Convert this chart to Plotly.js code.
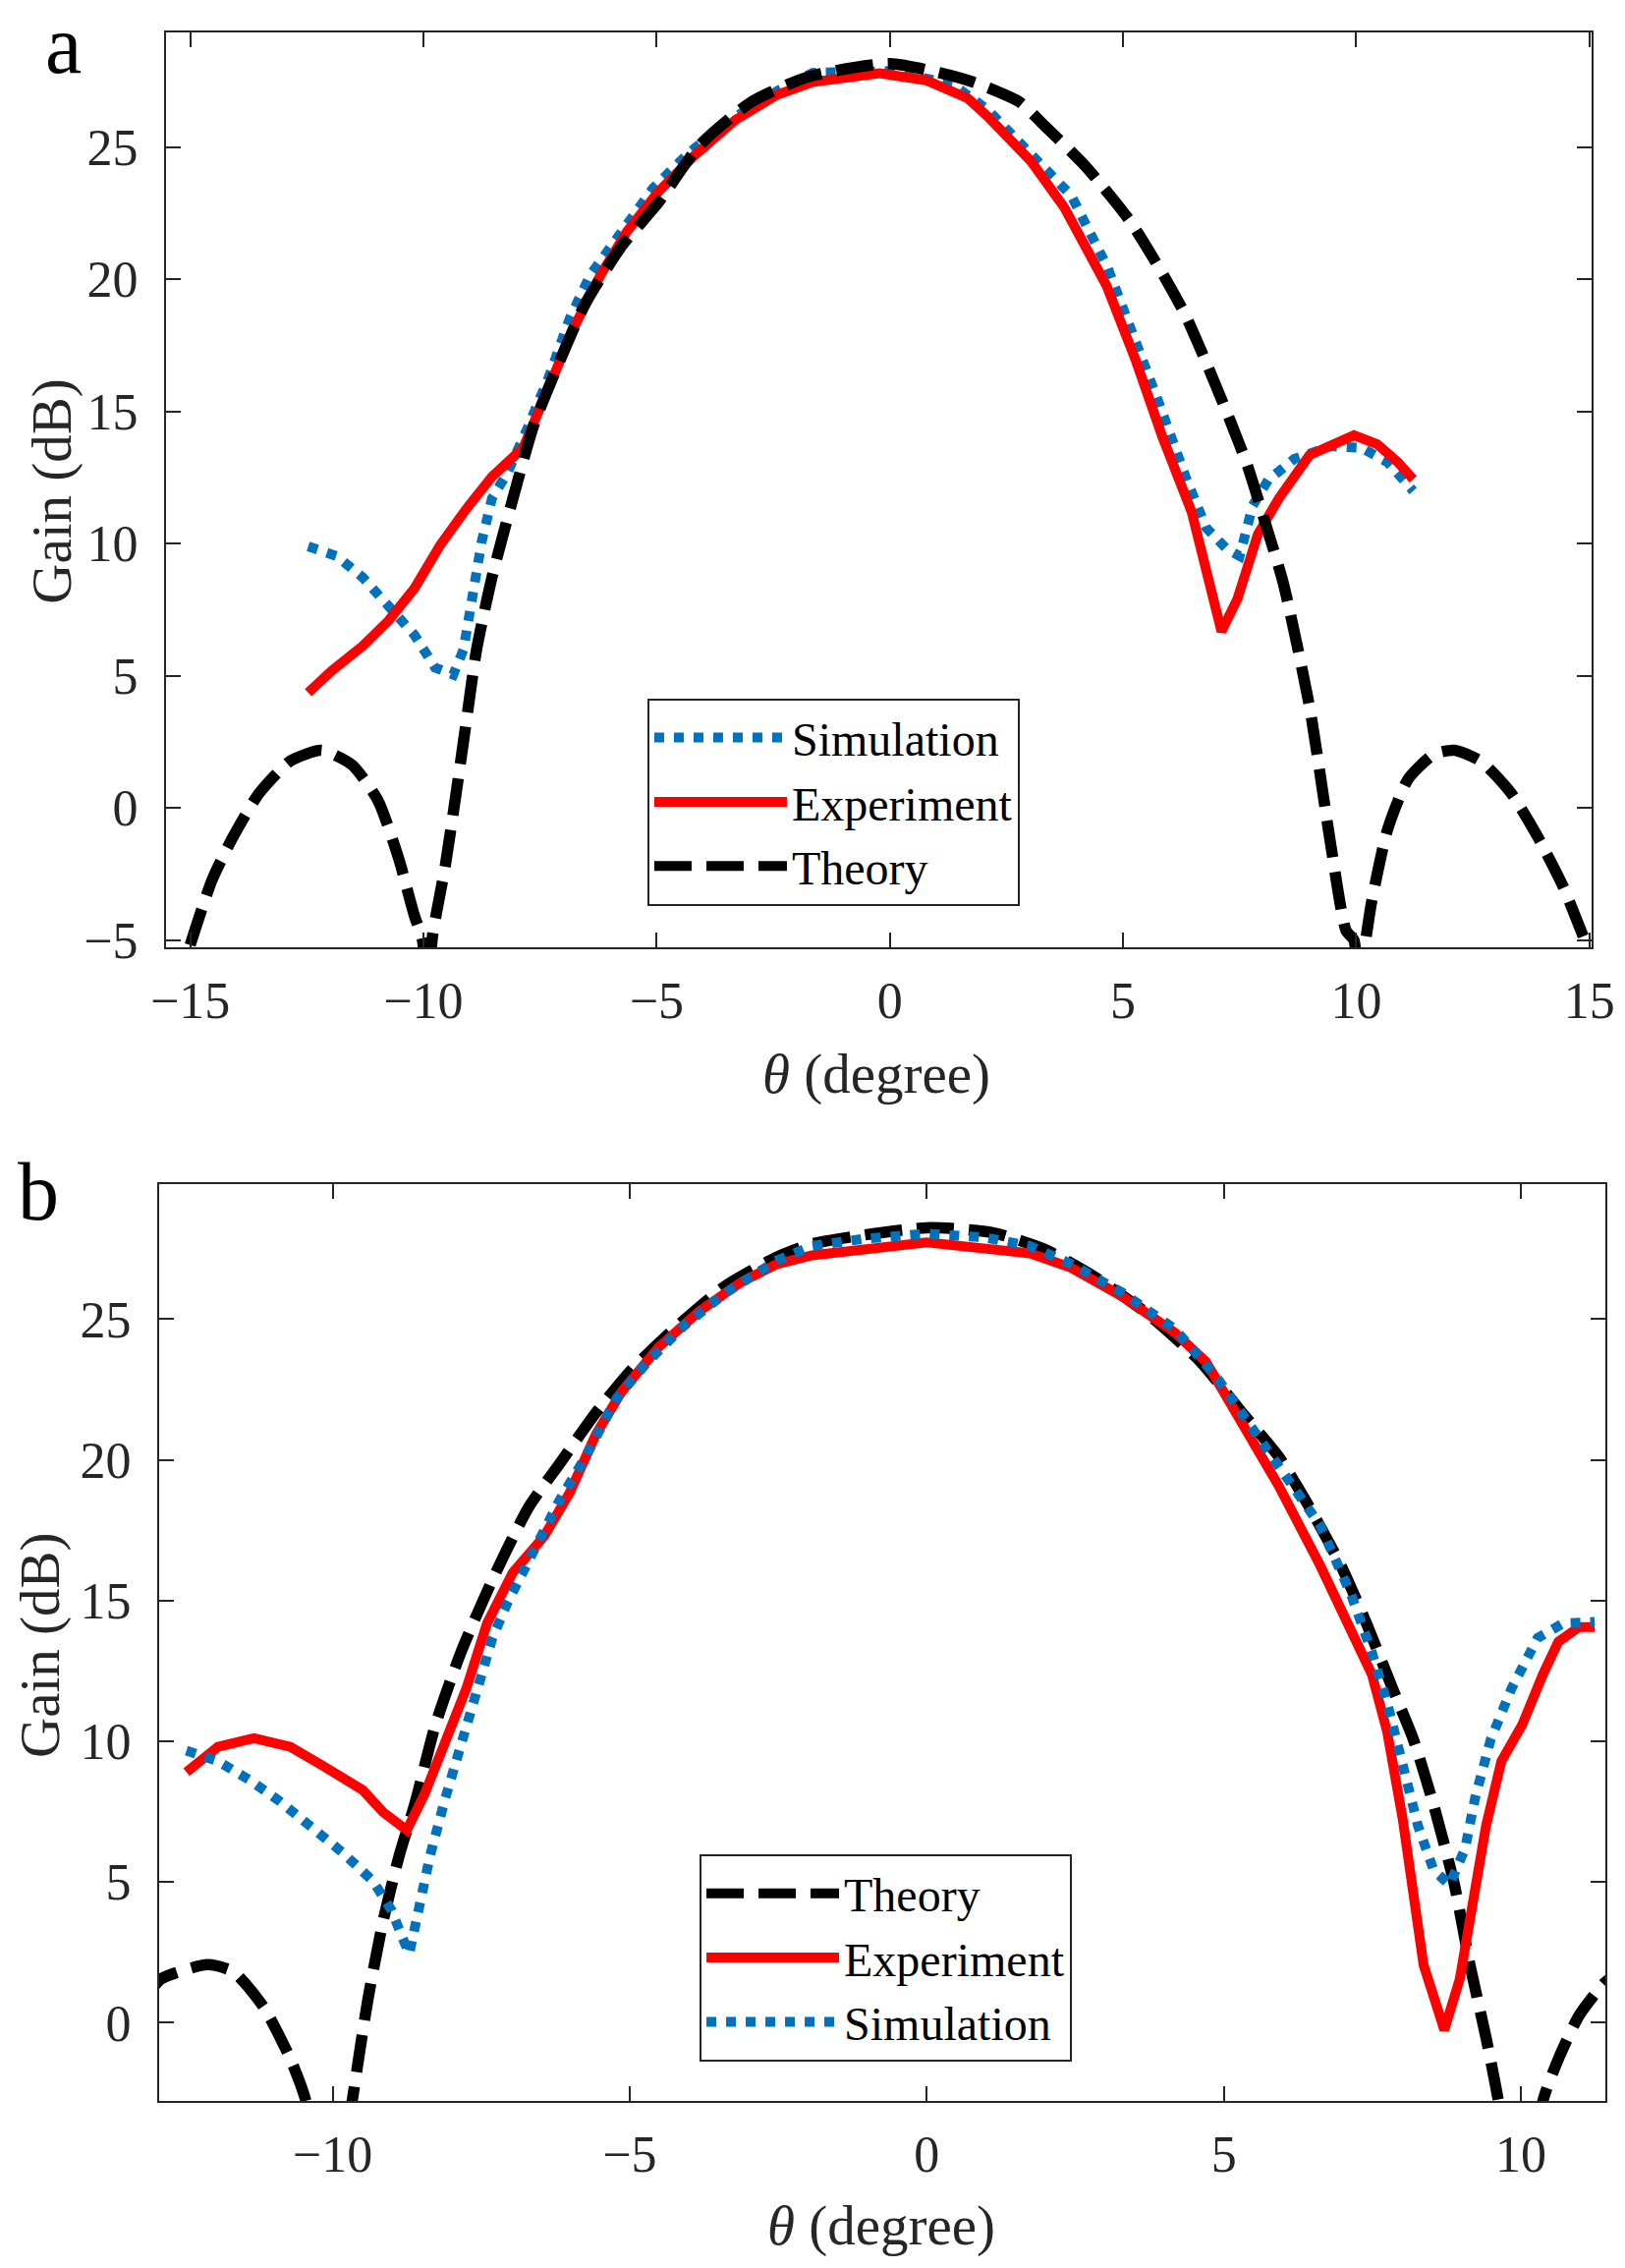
<!DOCTYPE html>
<html>
<head>
<meta charset="utf-8">
<script src="https://cdn.plot.ly/plotly-3.0.1.min.js"></script>
<style>
  html, body { margin: 0; padding: 0; background: #fff; }
  #chart { width: 1654px; height: 2308px; }
</style>
</head>
<body>
<div id="chart"></div>
<script>
// Panel a
const aTheoryX = [-15.0, -14.53, -14.08, -13.53, -12.86, -12.19, -11.53, -10.97, -10.53, -10.19, -10.03, -9.9,
  -9.8, -9.53, -9.3, -9.08, -8.86, -8.53, -8.08, -7.64, -7.08, -6.53, -5.75, -4.97, -4.08, -2.97, -1.75,
  0, 1.67, 2.78, 3.25, 4.23, 5.14, 5.84, 6.34, 6.83, 7.32, 7.67, 8.02, 8.44, 9.0, 9.45, 9.78, 9.95, 10.05,
  10.33, 10.67, 11.11, 11.67, 12.11, 12.67, 13.33, 13.89, 14.44, 14.94, 15.2];
const aTheoryY = [-5.18, -2.72, -1.09, 0.54, 1.77, 2.18, 1.63, 0.27, -1.91, -4.09, -4.9, -6.5,
  -4.77, -2.18, 0.54, 3.27, 5.99, 8.72, 11.71, 14.44, 16.89, 19.07, 21.25, 22.88, 25.06, 26.7, 27.65,
  28.15, 27.52, 26.7, 25.92, 24.2, 22.22, 20.23, 18.63, 16.65, 14.54, 12.93, 10.95, 8.47, 3.81, -1.36, -4.63, -5.0, -6.5,
  -3.54, -0.82, 1.09, 2.04, 2.18, 1.77, 0.54, -1.09, -2.99, -5.18, -6.2];

const aSimX = [-12.47, -11.86, -11.3, -10.75, -10.19, -9.75, -9.36, -9.14, -8.97, -8.75, -8.53, -8.2, -7.75,
  -7.3, -6.86, -6.42, -5.75, -5.08, -4.3, -3.3, -2.42, -1.66, 0, 1.34, 2.1, 3.0, 3.89, 4.67, 5.22, 5.78,
  6.34, 6.78, 7.22, 7.5, 7.78, 8.11, 8.67, 9.45, 10.11, 10.67, 11.22];
const aSimY = [9.89, 9.53, 8.72, 7.63, 6.54, 5.31, 5.04, 5.99, 7.9, 10.08, 11.71, 12.67, 14.44,
  16.35, 18.53, 20.16, 21.79, 23.43, 24.79, 26.15, 27.11, 27.8, 27.87, 27.38, 26.4, 24.79, 23.16, 20.43, 17.98, 15.26,
  12.53, 10.6, 9.8, 9.53, 11.44, 12.4, 13.2, 13.68, 13.62, 13.08, 11.99];

const aExpX = [-12.47, -11.97, -11.3, -10.75, -10.19, -9.64, -9.08, -8.53, -7.86, -7.53, -7.08, -6.75, -6.2,
  -5.64, -4.97, -4.2, -3.31, -2.42, -1.66, -0.22, 0.78, 1.67, 2.1, 3.03, 3.74, 4.65, 5.28, 5.84, 6.47,
  6.9, 7.11, 7.45, 7.89, 8.34, 9.0, 9.95, 10.45, 10.89, 11.22];
const aExpY = [4.36, 5.18, 6.13, 7.08, 8.31, 9.94, 11.31, 12.53, 13.62, 14.98, 16.89, 18.25, 20.16,
  21.79, 23.29, 24.66, 26.02, 26.97, 27.45, 27.79, 27.52, 26.84, 26.15, 24.45, 22.71, 19.74, 16.89, 14.05, 11.2,
  8.22, 6.68, 7.9, 10.35, 11.71, 13.35, 14.1, 13.76, 13.08, 12.43];

// Panel b
const bTheoryX = [-13.1, -12.89, -12.11, -11.67, -11.15, -10.71, -10.45, -10.05, -9.67, -9.41, -9.15, -8.88,
  -8.62, -8.27, -7.84, -7.31, -6.7, -6.18, -5.57, -4.96, -4.26, -3.39, -2.52, -1.93, 0, 1.12, 2.0, 2.87,
  3.74, 4.61, 5.31, 5.92, 6.44, 6.97, 7.4, 7.84, 8.19, 8.53, 8.88, 9.14, 9.41, 9.62, 10.0, 10.37, 10.63,
  10.98, 11.41, 11.8];
const bTheoryY = [1.0, 1.55, 2.06, 1.81, 0.52, -1.29, -2.78, -8.0, -2.78, 0.77, 3.61, 5.93,
  7.74, 10.58, 13.16, 15.74, 18.32, 19.86, 21.67, 23.22, 24.64, 26.18, 27.21, 27.68, 28.25, 28.07, 27.47, 26.44,
  25.15, 23.48, 21.67, 20.12, 18.32, 16.25, 14.19, 11.87, 10.06, 7.74, 4.9, 2.06, -0.51, -2.78, -8.0, -2.78, -1.29,
  0.26, 1.42, 2.0];

const bSimX = [-12.46, -11.93, -11.41, -10.89, -10.37, -9.84, -9.32, -9.01, -8.84, -8.71, -8.54, -8.36, -8.1,
  -7.84, -7.58, -7.31, -7.05, -6.79, -6.53, -6.18, -5.74, -5.22, -4.7, -4.09, -3.39, -2.52, -1.93, -1.05, 0,
  0.95, 1.74, 2.43, 3.3, 4.18, 4.87, 5.48, 6.09, 6.62, 7.14, 7.49, 7.75, 8.01, 8.27, 8.53, 8.8, 9.06, 9.23,
  9.49, 9.84, 10.28, 10.71, 11.24];
const bSimY = [9.67, 9.29, 8.64, 7.87, 6.97, 6.06, 5.03, 4.0, 3.1, 2.45, 4.13, 5.93, 8.0,
  9.8, 11.61, 13.67, 14.96, 15.99, 17.03, 18.57, 20.12, 22.19, 23.48, 24.76, 25.93, 27.09, 27.6, 27.86, 28.04,
  27.91, 27.6, 26.96, 25.93, 24.64, 22.96, 21.15, 19.35, 17.67, 15.22, 13.16, 11.35, 9.03, 6.97, 5.42, 4.9, 6.19, 8.0,
  10.06, 11.87, 13.67, 14.19, 14.24];

const bExpX = [-12.46, -11.93, -11.32, -10.71, -10.19, -9.49, -9.15, -8.75, -8.45, -8.1, -7.75, -7.4, -6.97,
  -6.44, -6.01, -5.57, -5.13, -4.52, -3.83, -3.13, -2.52, -1.93, 0, 1.74, 2.43, 3.3, 4.18, 4.7, 5.22, 5.92,
  6.62, 7.14, 7.49, 7.75, 8.01, 8.36, 8.71, 8.97, 9.23, 9.41, 9.67, 10.02, 10.37, 10.63, 10.98, 11.24];
const bExpY = [8.9, 9.8, 10.11, 9.8, 9.16, 8.26, 7.48, 6.84, 8.13, 10.06, 11.87, 14.19, 15.99,
  17.29, 18.83, 20.9, 22.44, 23.99, 25.28, 26.31, 26.96, 27.27, 27.73, 27.34, 26.83, 25.8, 24.51, 23.48, 21.67, 19.09,
  16.25, 13.93, 12.38, 10.32, 7.23, 2.06, -0.26, 1.55, 4.9, 6.97, 9.29, 10.58, 12.38, 13.54, 14.06, 14.06];

const xTicksA = [-15, -10, -5, 0, 5, 10, 15];
const yTicksA = [-5, 0, 5, 10, 15, 20, 25];
const xTicksB = [-10, -5, 0, 5, 10];
const yTicksB = [0, 5, 10, 15, 20, 25];

// Стили
const FONT = "Liberation Serif, Times New Roman, serif";
const AXIS_COLOR = "#262626";
const BLUE = "#0072BD";
const simLine = { color: BLUE, width: 10, dash: "dot" };
const expLine = { color: "#FF0000", width: 10, dash: "solid" };
const theoryLine = { color: "#000000", width: 11.5, dash: "38px,15px", shape: "spline", smoothing: 0.6 };

const traces = [
  { x: aSimX, y: aSimY, name: "Simulation", line: simLine, xaxis: "x", yaxis: "y", legend: "legend" },
  { x: aExpX, y: aExpY, name: "Experiment", line: expLine, xaxis: "x", yaxis: "y", legend: "legend" },
  { x: aTheoryX, y: aTheoryY, name: "Theory", line: theoryLine, xaxis: "x", yaxis: "y", legend: "legend" },
  { x: bTheoryX, y: bTheoryY, name: "Theory", line: theoryLine, xaxis: "x2", yaxis: "y2", legend: "legend2" },
  { x: bExpX, y: bExpY, name: "Experiment", line: expLine, xaxis: "x2", yaxis: "y2", legend: "legend2" },
  { x: bSimX, y: bSimY, name: "Simulation", line: simLine, xaxis: "x2", yaxis: "y2", legend: "legend2" },
].map((t) => Object.assign({ type: "scatter", mode: "lines", hoverinfo: "skip" }, t));

function axisBase(tickvals, range, domain, anchor, isX) {
  return {
    domain: domain,
    range: range,
    anchor: anchor,
    tickvals: tickvals,
    ticks: "inside",
    ticklen: 15,
    tickwidth: 2,
    tickcolor: AXIS_COLOR,
    showline: true,
    linecolor: AXIS_COLOR,
    linewidth: 2,
    mirror: "ticks",
    showgrid: false,
    zeroline: false,
    ticklabelstandoff: isX ? 8 : 16,
    tickfont: { family: FONT, size: 52, color: AXIS_COLOR },
  };
}

const legendBase = {
  xanchor: "left",
  yanchor: "top",
  bgcolor: "#ffffff",
  bordercolor: AXIS_COLOR,
  borderwidth: 2,
  itemwidth: 135,
  tracegroupgap: 0,
  font: { family: FONT, size: 48, color: "#000000" },
};

const titleFont = { family: FONT, size: 57, color: AXIS_COLOR };
const letterFont = { family: FONT, size: 84, color: "#000000" };

function note(text, x, y, font, angle) {
  return {
    text: text, x: x, y: y, xref: "paper", yref: "paper",
    xanchor: "center", yanchor: "middle", showarrow: false,
    textangle: angle || 0, font: font,
  };
}

const layout = {
  width: 1654,
  height: 2308,
  margin: { l: 0, r: 0, t: 0, b: 0 },
  paper_bgcolor: "#ffffff",
  plot_bgcolor: "#ffffff",
  showlegend: true,
  xaxis: axisBase(xTicksA, [-15.52, 15.04], [0.1021, 0.9793], "y", true),
  yaxis: axisBase(yTicksA, [-5.27, 29.33], [0.5823, 0.9857], "x", false),
  xaxis2: axisBase(xTicksB, [-12.92, 11.42], [0.0979, 0.9879], "y2", true),
  yaxis2: axisBase(yTicksB, [-2.78, 29.8], [0.0737, 0.4779], "x2", false),
  legend: Object.assign({ x: 0.3984, y: 0.692 }, legendBase),
  legend2: Object.assign({ x: 0.4305, y: 0.1824 }, legendBase),
  annotations: [
    note("a", 0.0387, 0.9805, letterFont),
    note("b", 0.0236, 0.4745, letterFont),
    note("Gain (dB)", 0.0319, 0.7834, titleFont, -90),
    note("Gain (dB)", 0.0248, 0.2747, titleFont, -90),
    note("<i>θ</i> (degree)", 0.5395, 0.5264, titleFont),
    note("<i>θ</i> (degree)", 0.5425, 0.0185, titleFont),
  ],
};

Plotly.newPlot("chart", traces, layout, { staticPlot: true });
</script>
</body>
</html>
